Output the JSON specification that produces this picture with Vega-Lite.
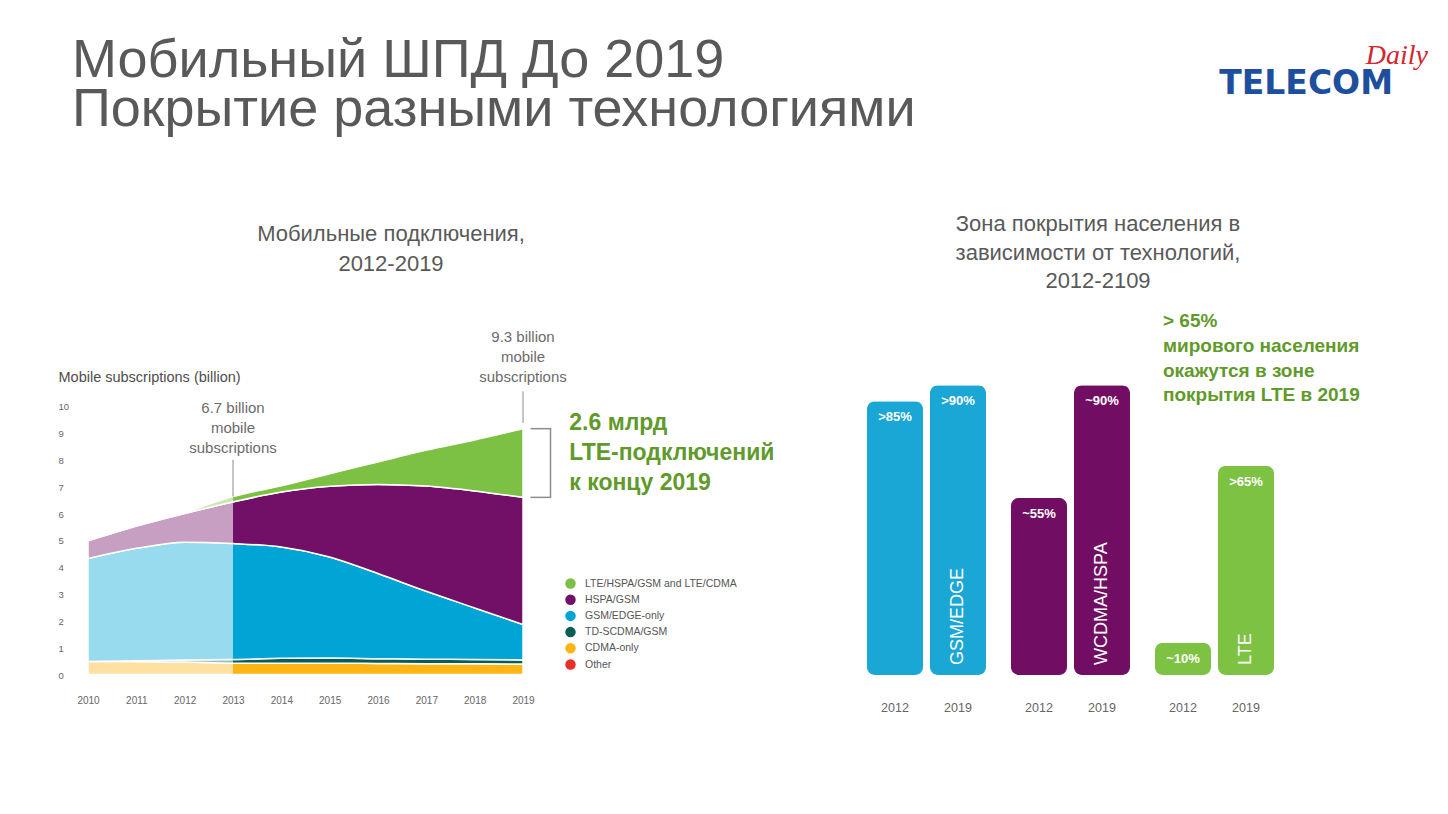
{
  "$schema": "https://vega.github.io/schema/vega-lite/v6.json",
  "background": "white",
  "padding": {"left": 58, "top": 34, "right": 10, "bottom": 10},
  "config": {"view": {"stroke": null}, "font": "Liberation Sans", "axis": {"labelOverlap": false}},
  "datasets": {
    "subs": [
      {"year": 2010, "series": "Other", "rank": 1, "value": 0.02},
      {"year": 2010, "series": "CDMA-only", "rank": 2, "value": 0.48},
      {"year": 2010, "series": "TD-SCDMA/GSM", "rank": 3, "value": 0.0},
      {"year": 2010, "series": "GSM/EDGE-only", "rank": 4, "value": 3.84},
      {"year": 2010, "series": "HSPA/GSM", "rank": 5, "value": 0.66},
      {"year": 2010, "series": "LTE/HSPA/GSM and LTE/CDMA", "rank": 6, "value": 0.0},
      {"year": 2011, "series": "Other", "rank": 1, "value": 0.02},
      {"year": 2011, "series": "CDMA-only", "rank": 2, "value": 0.48},
      {"year": 2011, "series": "TD-SCDMA/GSM", "rank": 3, "value": 0.03},
      {"year": 2011, "series": "GSM/EDGE-only", "rank": 4, "value": 4.19},
      {"year": 2011, "series": "HSPA/GSM", "rank": 5, "value": 0.83},
      {"year": 2011, "series": "LTE/HSPA/GSM and LTE/CDMA", "rank": 6, "value": 0.01},
      {"year": 2012, "series": "Other", "rank": 1, "value": 0.02},
      {"year": 2012, "series": "CDMA-only", "rank": 2, "value": 0.46},
      {"year": 2012, "series": "TD-SCDMA/GSM", "rank": 3, "value": 0.08},
      {"year": 2012, "series": "GSM/EDGE-only", "rank": 4, "value": 4.39},
      {"year": 2012, "series": "HSPA/GSM", "rank": 5, "value": 1.07},
      {"year": 2012, "series": "LTE/HSPA/GSM and LTE/CDMA", "rank": 6, "value": 0.04},
      {"year": 2013, "series": "Other", "rank": 1, "value": 0.02},
      {"year": 2013, "series": "CDMA-only", "rank": 2, "value": 0.42},
      {"year": 2013, "series": "TD-SCDMA/GSM", "rank": 3, "value": 0.14},
      {"year": 2013, "series": "GSM/EDGE-only", "rank": 4, "value": 4.32},
      {"year": 2013, "series": "HSPA/GSM", "rank": 5, "value": 1.55},
      {"year": 2013, "series": "LTE/HSPA/GSM and LTE/CDMA", "rank": 6, "value": 0.2},
      {"year": 2014, "series": "Other", "rank": 1, "value": 0.02},
      {"year": 2014, "series": "CDMA-only", "rank": 2, "value": 0.42},
      {"year": 2014, "series": "TD-SCDMA/GSM", "rank": 3, "value": 0.18},
      {"year": 2014, "series": "GSM/EDGE-only", "rank": 4, "value": 4.15},
      {"year": 2014, "series": "HSPA/GSM", "rank": 5, "value": 2.05},
      {"year": 2014, "series": "LTE/HSPA/GSM and LTE/CDMA", "rank": 6, "value": 0.23},
      {"year": 2015, "series": "Other", "rank": 1, "value": 0.02},
      {"year": 2015, "series": "CDMA-only", "rank": 2, "value": 0.42},
      {"year": 2015, "series": "TD-SCDMA/GSM", "rank": 3, "value": 0.19},
      {"year": 2015, "series": "GSM/EDGE-only", "rank": 4, "value": 3.77},
      {"year": 2015, "series": "HSPA/GSM", "rank": 5, "value": 2.63},
      {"year": 2015, "series": "LTE/HSPA/GSM and LTE/CDMA", "rank": 6, "value": 0.47},
      {"year": 2016, "series": "Other", "rank": 1, "value": 0.02},
      {"year": 2016, "series": "CDMA-only", "rank": 2, "value": 0.41},
      {"year": 2016, "series": "TD-SCDMA/GSM", "rank": 3, "value": 0.18},
      {"year": 2016, "series": "GSM/EDGE-only", "rank": 4, "value": 3.17},
      {"year": 2016, "series": "HSPA/GSM", "rank": 5, "value": 3.32},
      {"year": 2016, "series": "LTE/HSPA/GSM and LTE/CDMA", "rank": 6, "value": 0.84},
      {"year": 2017, "series": "Other", "rank": 1, "value": 0.02},
      {"year": 2017, "series": "CDMA-only", "rank": 2, "value": 0.4},
      {"year": 2017, "series": "TD-SCDMA/GSM", "rank": 3, "value": 0.17},
      {"year": 2017, "series": "GSM/EDGE-only", "rank": 4, "value": 2.53},
      {"year": 2017, "series": "HSPA/GSM", "rank": 5, "value": 3.92},
      {"year": 2017, "series": "LTE/HSPA/GSM and LTE/CDMA", "rank": 6, "value": 1.34},
      {"year": 2018, "series": "Other", "rank": 1, "value": 0.02},
      {"year": 2018, "series": "CDMA-only", "rank": 2, "value": 0.4},
      {"year": 2018, "series": "TD-SCDMA/GSM", "rank": 3, "value": 0.16},
      {"year": 2018, "series": "GSM/EDGE-only", "rank": 4, "value": 1.92},
      {"year": 2018, "series": "HSPA/GSM", "rank": 5, "value": 4.36},
      {"year": 2018, "series": "LTE/HSPA/GSM and LTE/CDMA", "rank": 6, "value": 1.9},
      {"year": 2019, "series": "Other", "rank": 1, "value": 0.02},
      {"year": 2019, "series": "CDMA-only", "rank": 2, "value": 0.39},
      {"year": 2019, "series": "TD-SCDMA/GSM", "rank": 3, "value": 0.15},
      {"year": 2019, "series": "GSM/EDGE-only", "rank": 4, "value": 1.32},
      {"year": 2019, "series": "HSPA/GSM", "rank": 5, "value": 4.74},
      {"year": 2019, "series": "LTE/HSPA/GSM and LTE/CDMA", "rank": 6, "value": 2.56}
    ],
    "coverage": [
      {"tech": "GSM/EDGE", "year": 2012, "value": 85, "label": ">85%"},
      {"tech": "GSM/EDGE", "year": 2019, "value": 90, "label": ">90%"},
      {"tech": "WCDMA/HSPA", "year": 2012, "value": 55, "label": "~55%"},
      {"tech": "WCDMA/HSPA", "year": 2019, "value": 90, "label": "~90%"},
      {"tech": "LTE", "year": 2012, "value": 10, "label": "~10%"},
      {"tech": "LTE", "year": 2019, "value": 65, "label": ">65%"}
    ]
  },
  "bounds": "flush",
  "spacing": 259,
  "vconcat": [
    {
      "width": 1340,
      "height": 60,
      "data": {"values": [{"title": "Мобильный ШПД До 2019\nПокрытие разными технологиями", "brand": "TELECOM", "brand2": "Daily"}]},
      "layer": [
        {
          "mark": {"type": "text", "align": "left", "baseline": "top", "fontSize": 54, "lineHeight": 48.5, "lineBreak": "\n", "color": "#595959", "dx": -16},
          "encoding": {
            "x": {"datum": 0, "type": "quantitative", "scale": {"domain": [0, 1]}, "axis": null},
            "y": {"datum": 1, "type": "quantitative", "scale": {"domain": [0, 1]}, "axis": null},
            "text": {"field": "title"}
          }
        },
        {
          "mark": {"type": "text", "align": "right", "baseline": "alphabetic", "fontSize": 33, "font": "DejaVu Sans", "fontWeight": "bold", "color": "#1d4f9e", "dx": -35},
          "encoding": {
            "x": {"datum": 1, "type": "quantitative"},
            "y": {"datum": 0, "type": "quantitative"},
            "text": {"field": "brand"}
          }
        },
        {
          "mark": {"type": "text", "align": "right", "baseline": "alphabetic", "fontSize": 28, "font": "Liberation Serif", "fontStyle": "italic", "color": "#d22630"},
          "encoding": {
            "x": {"datum": 1, "type": "quantitative"},
            "y": {"datum": 0.5, "type": "quantitative"},
            "text": {"field": "brand2"}
          }
        }
      ]
    },
    {
      "bounds": "flush",
      "spacing": 331.5,
      "resolve": {"scale": {"color": "independent", "x": "independent", "y": "independent"}},
      "hconcat": [
        {
          "width": 435,
          "height": 322,
          "title": {"text": ["Мобильные подключения,", "2012-2019"], "fontSize": 22, "lineHeight": 30, "color": "#595959", "fontWeight": "normal", "anchor": "middle", "frame": "group", "dx": 85.5, "offset": 54},
          "layer": [
            {
              "data": {"name": "subs"},
              "mark": {"type": "area", "interpolate": "monotone", "stroke": "white", "strokeWidth": 1.5},
              "encoding": {
                "x": {"field": "year", "type": "quantitative", "scale": {"domain": [2010, 2019], "nice": false, "zero": false},
                  "axis": {"values": [2010, 2011, 2012, 2013, 2014, 2015, 2016, 2017, 2018, 2019], "tickCount": 10, "format": "d", "title": null, "domain": false, "ticks": false, "tickSize": 0, "grid": false, "labelFontSize": 10, "labelColor": "#666666", "labelPadding": 20, "labelFlush": false, "labelOverlap": false}},
                "y": {"field": "value", "type": "quantitative", "stack": "zero", "scale": {"domain": [0, 12], "nice": false},
                  "axis": {"values": [0, 1, 2, 3, 4, 5, 6, 7, 8, 9, 10], "tickCount": 11, "title": "Mobile subscriptions (billion)", "titleAngle": 0, "titleAlign": "left", "titleBaseline": "alphabetic", "titleX": -30, "titleY": 28, "titleFontSize": 14.5, "titleFontWeight": "normal", "titleColor": "#4d4d4d", "domain": false, "ticks": false, "tickSize": 0, "grid": false, "labelAlign": "left", "labelBaseline": "middle", "labelPadding": 30, "labelFontSize": 9.5, "labelColor": "#666666", "labelOverlap": false, "labelFlush": false}},
                "color": {"field": "series", "type": "nominal",
                  "scale": {"domain": ["LTE/HSPA/GSM and LTE/CDMA", "HSPA/GSM", "GSM/EDGE-only", "TD-SCDMA/GSM", "CDMA-only", "Other"], "range": ["#7cc143", "#720f66", "#00a5d5", "#075e54", "#fdb515", "#e5312a"]},
                  "legend": {"orient": "none", "legendX": 477, "legendY": 225, "title": null, "symbolType": "circle", "symbolSize": 110, "symbolStrokeWidth": 0, "labelFontSize": 10.5, "labelColor": "#555555", "rowPadding": 5.2, "labelOffset": 9}},
                "order": {"field": "rank", "type": "quantitative", "sort": "ascending"}
              }
            },
            {
              "data": {"values": [{"period": "2010-2013"}]},
              "mark": {"type": "rect", "color": "white", "opacity": 0.6},
              "encoding": {
                "x": {"datum": 2010, "type": "quantitative"},
                "x2": {"datum": 2013},
                "y": {"datum": 0, "type": "quantitative"},
                "y2": {"datum": 7}
              }
            },
            {
              "data": {"values": [{"note": "6.7 billion\nmobile\nsubscriptions"}]},
              "layer": [
                {
                  "mark": {"type": "rule", "color": "#8c8c8c", "strokeWidth": 1},
                  "encoding": {"x": {"datum": 2013, "type": "quantitative"}, "y": {"datum": 8.02, "type": "quantitative"}, "y2": {"datum": 6.65}}
                },
                {
                  "mark": {"type": "text", "align": "center", "baseline": "alphabetic", "fontSize": 15, "lineHeight": 20, "lineBreak": "\n", "color": "#6b6b6b"},
                  "encoding": {"x": {"datum": 2013, "type": "quantitative"}, "y": {"datum": 9.78, "type": "quantitative"}, "text": {"field": "note"}}
                }
              ]
            },
            {
              "data": {"values": [{"note": "9.3 billion\nmobile\nsubscriptions"}]},
              "layer": [
                {
                  "mark": {"type": "rule", "color": "#8c8c8c", "strokeWidth": 1},
                  "encoding": {"x": {"datum": 2019, "type": "quantitative"}, "y": {"datum": 10.57, "type": "quantitative"}, "y2": {"datum": 9.39}}
                },
                {
                  "mark": {"type": "text", "align": "center", "baseline": "alphabetic", "fontSize": 15, "lineHeight": 20, "lineBreak": "\n", "color": "#6b6b6b"},
                  "encoding": {"x": {"datum": 2019, "type": "quantitative"}, "y": {"datum": 12.42, "type": "quantitative"}, "text": {"field": "note"}}
                }
              ]
            },
            {
              "data": {"values": [{"note": "2.6 млрд\nLTE-подключений\nк концу 2019"}]},
              "layer": [
                {
                  "mark": {"type": "rule", "color": "#8c8c8c", "strokeWidth": 1.5, "xOffset": 27.5},
                  "encoding": {"x": {"datum": 2019, "type": "quantitative"}, "y": {"datum": 9.18, "type": "quantitative"}, "y2": {"datum": 6.62}}
                },
                {
                  "mark": {"type": "rule", "color": "#8c8c8c", "strokeWidth": 1.5, "xOffset": 7.5, "x2Offset": 28.2},
                  "encoding": {"x": {"datum": 2019, "type": "quantitative"}, "x2": {"datum": 2019}, "y": {"datum": 9.18, "type": "quantitative"}}
                },
                {
                  "mark": {"type": "rule", "color": "#8c8c8c", "strokeWidth": 1.5, "xOffset": 7.5, "x2Offset": 28.2},
                  "encoding": {"x": {"datum": 2019, "type": "quantitative"}, "x2": {"datum": 2019}, "y": {"datum": 6.62, "type": "quantitative"}}
                },
                {
                  "mark": {"type": "text", "align": "left", "baseline": "alphabetic", "fontSize": 23, "fontWeight": "bold", "lineHeight": 30, "lineBreak": "\n", "color": "#5f9a2b", "dx": 46.3},
                  "encoding": {"x": {"datum": 2019, "type": "quantitative"}, "y": {"datum": 9.12, "type": "quantitative"}, "text": {"field": "note"}}
                }
              ]
            }
          ]
        },
        {
          "width": 432,
          "height": 322,
          "title": {"text": ["Зона покрытия населения в", "зависимости от технологий,", "2012-2109"], "fontSize": 22, "lineHeight": 28.5, "color": "#595959", "fontWeight": "normal", "anchor": "middle", "frame": "group", "dx": 27.5, "offset": 19},
          "data": {"name": "coverage"},
          "encoding": {
            "x": {"field": "tech", "type": "nominal", "scale": {"domain": ["GSM/EDGE", "WCDMA/HSPA", "LTE"], "paddingInner": 0, "paddingOuter": 0}, "axis": null},
            "xOffset": {"field": "year", "type": "nominal", "scale": {"domain": [2012, 2019], "paddingInner": 0.111, "paddingOuter": 0.198}}
          },
          "layer": [
            {
              "mark": {"type": "bar", "cornerRadius": 8},
              "encoding": {
                "y": {"field": "value", "type": "quantitative", "scale": {"domain": [0, 100], "nice": false}, "axis": null},
                "color": {"field": "tech", "type": "nominal", "scale": {"domain": ["GSM/EDGE", "WCDMA/HSPA", "LTE"], "range": ["#1aa7d6", "#710e64", "#7dc242"]}, "legend": null}
              }
            },
            {
              "mark": {"type": "text", "align": "center", "baseline": "alphabetic", "fontSize": 13, "fontWeight": "bold", "color": "white", "dy": 20},
              "encoding": {
                "y": {"field": "value", "type": "quantitative"},
                "text": {"field": "label"}
              }
            },
            {
              "mark": {"type": "text", "align": "center", "baseline": "alphabetic", "fontSize": 12.5, "color": "#666666", "dy": 36.7},
              "encoding": {
                "y": {"datum": 0, "type": "quantitative"},
                "text": {"field": "year"}
              }
            },
            {
              "transform": [{"filter": "datum.year == 2019"}],
              "mark": {"type": "text", "align": "left", "baseline": "middle", "angle": 270, "fontSize": 18, "color": "white", "dx": 10},
              "encoding": {
                "y": {"datum": 0, "type": "quantitative"},
                "text": {"field": "tech"}
              }
            },
            {
              "data": {"values": [{"note": "> 65%\nмирового населения\nокажутся в зоне\nпокрытия LTE в 2019"}]},
              "mark": {"type": "text", "align": "left", "baseline": "alphabetic", "fontSize": 19, "fontWeight": "bold", "lineHeight": 24.7, "lineBreak": "\n", "color": "#5f9a2b", "dx": -51.5},
              "encoding": {
                "x": {"datum": "LTE", "type": "nominal"},
                "xOffset": null,
                "y": {"datum": 108, "type": "quantitative"},
                "text": {"field": "note"}
              }
            }
          ]
        }
      ]
    }
  ]
}
